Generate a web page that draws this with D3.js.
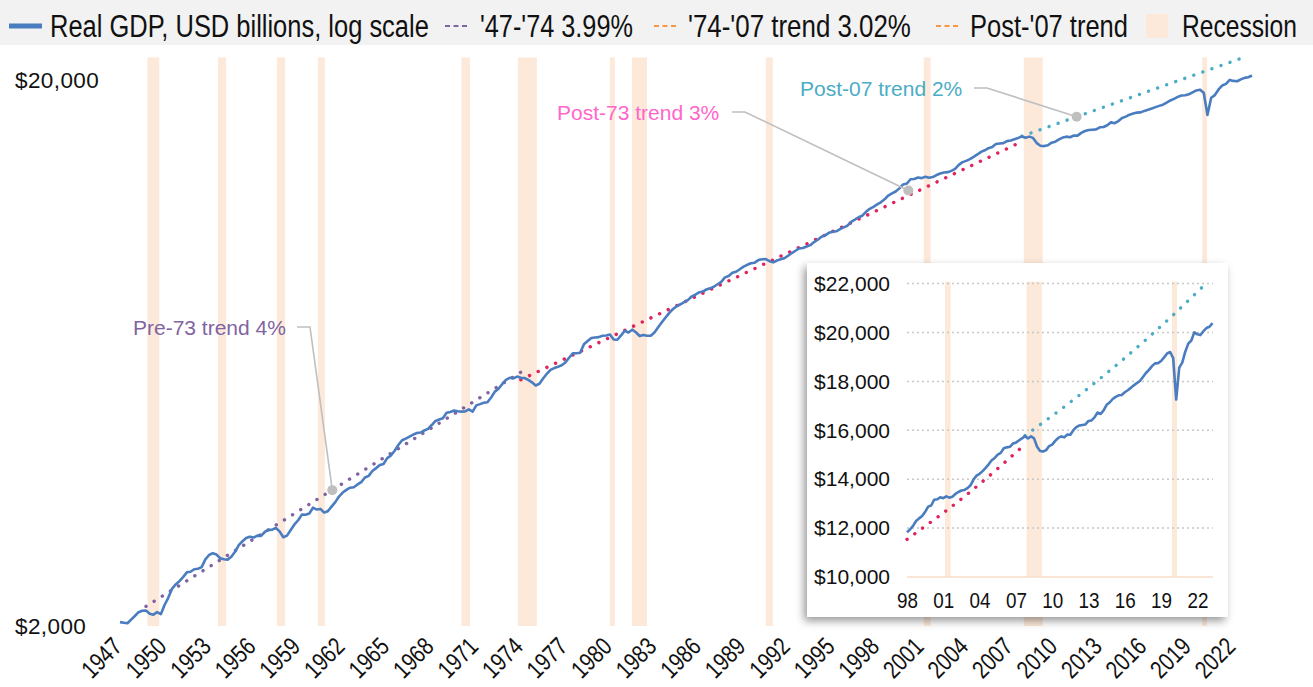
<!DOCTYPE html>
<html><head><meta charset="utf-8">
<script src="https://cdn.jsdelivr.net/npm/d3@7"></script>
<style>
html,body{margin:0;padding:0;background:#fff;}
svg{display:block;}
</style></head><body>
<svg id="chart" width="1313" height="687"></svg>
<script>
// ---------------- DATA ----------------
const startYear = 1947; // first value = 1947 Q1, quarterly
const gdpValues = [
 2033,2028,2023,2055, 2086,2120,2133,2135, 2106,2098,2120,2102, 2185,2252,2339,2383,
 2416,2458,2508,2514, 2541,2546,2564,2649, 2698,2719,2703,2662, 2650,2646,2679,2735,
 2813,2859,2898,2915, 2904,2928,2925,2973, 3000,3002,3024,2981, 2908,2928,2997,3069,
 3124,3199,3198,3215, 3294,3268,3277,3227, 3246,3308,3372,3452, 3511,3551,3583,3591,
 3633,3670,3741,3767, 3846,3892,3942,3961, 4059,4106,4188,4290, 4378,4408,4445,4483,
 4514,4522,4562,4593, 4668,4749,4777,4803, 4915,4931,4962,4948, 4940,4944,4985,4939,
 5071,5098,5127,5139, 5241,5374,5440,5550, 5647,5697,5681,5726, 5698,5691,5646,5588,
 5515,5554,5680,5794, 5891,5935,5966,6007, 6078,6198,6317,6318, 6330,6560,6650,6735,
 6752,6762,6800,6810, 6838,6696,6688,6813, 6947,6895,6978,6902, 6794,6826,6800,6803,
 6893,7052,7199,7345, 7490,7614,7703,7768, 7838,7905,8024,8085, 8166,8195,8267,8307,
 8364,8451,8538,8701, 8752,8868,8910,9005, 9103,9174,9235,9257, 9358,9393,9398,9313,
 9269,9341,9389,9432, 9532,9641,9735,9829, 9850,9909,9967,10097, 10196,10328,10389,10497,
 10543,10566,10666,10743, 10818,10998,11097,11212, 11285,11473,11616,11716, 11832,11942,12091,12288,
 12398,12497,12663,12877, 12924,13161,13178,13261, 13223,13300,13245,13281, 13397,13478,13539,13559,
 13634,13751,13985,14145, 14221,14330,14465,14610, 14772,14870,15004,15075, 15267,15302,15326,15457,
 15494,15582,15667,15762, 15671,15752,15668,15328, 15156,15134,15190,15356, 15416,15565,15687,15750,
 15712,15825,15821,16004, 16129,16199,16220,16240, 16383,16404,16528,16728, 16668,16817,17043,17137,
 17280,17368,17432,17447, 17556,17640,17736,17838, 17932,18018,18181,18344, 18472,18624,18739,18749,
 18834,18983,19141,19202, 18952,17258,18561,18767, 19216,19544,19673,20006, 19924,19895,20054,20182,
 20235,20386
];
// trend lines: [year, value]
const trendPre73  = [[1948.75,2173],[1961,3509],[1974,5833]];
const trendPost73 = [[1974,5650],[1986,8076],[1998,11540],[2003,13392],[2007.75,15424]];
const trendPost07 = [[2007.75,15780],[2012,17342],[2016,18958],[2020,20718],[2022.6,21950]];
// recession periods [start, end]
const recessions = [[1948.85,1949.65],[1953.6,1954.15],[1957.57,1958.12],[1960.33,1960.8],
  [1970.0,1970.57],[1973.8,1975.08],[1980.0,1980.33],[1981.48,1982.5],[1990.5,1990.97],
  [2001.14,2001.6],[2007.88,2009.15],[2019.9,2020.22]];
const mainYTicks = [2000,20000];
const mainXTicks = [1947,1950,1953,1956,1959,1962,1965,1968,1971,1974,1977,1980,1983,1986,1989,1992,1995,1998,2001,2004,2007,2010,2013,2016,2019,2022];
const insetYTicks = [10000,12000,14000,16000,18000,20000,22000];
const insetXTicks = [1998,2001,2004,2007,2010,2013,2016,2019,2022];
const insetStart = 1998;
const legendLabels = ["Real GDP, USD billions, log scale","'47-'74 3.99%","'74-'07 trend 3.02%","Post-'07 trend","Recession"];
const annotationTexts = ["Pre-73 trend 4%","Post-73 trend 3%","Post-07 trend 2%"];
const annotationAnchors = [[1961.3,3547],[2000.1,12550],[2011.44,17126]];

// ---------------- STYLE ----------------
const C = {blue:"#4a7cc0", purple:"#8064a2", crimson:"#e0245e", teal:"#4bacc6",
  pinkText:"#ff66cc", orange:"#f79646", rec:"#fde9d9", grey:"#bfbfbf"};
const SANS = '"Liberation Sans",Arial,sans-serif';

const W=1313,H=687;
const svg=d3.select("#chart");
const defs=svg.append("defs");
const flt=defs.append("filter").attr("id","shadow").attr("x","-10%").attr("y","-10%").attr("width","125%").attr("height","125%");
flt.append("feDropShadow").attr("dx",-3).attr("dy",4).attr("stdDeviation",4).attr("flood-color","#000").attr("flood-opacity",0.4);

// squeeze a text horizontally to a target width (condensed look)
function condense(sel, target, pre){
  sel.each(function(){
    const w=this.getComputedTextLength();
    const s=Math.min(1,target/w);
    d3.select(this).attr("transform",(pre||"")+` scale(${s},1)`);
  });
}

const series = gdpValues.map((v,i)=>({t:startYear+i*0.25, v}));

// ---------------- MAIN CHART ----------------
const x=d3.scaleLinear().domain([1947,2023.25]).range([120,1252]);
const y=d3.scaleLog().domain([2000,22000]).range([626,57.4]);

svg.append("g").selectAll("rect").data(recessions).join("rect")
  .attr("x",d=>x(d[0])).attr("width",d=>Math.max(4,x(d[1])-x(d[0])))
  .attr("y",y(22000)).attr("height",y(2000)-y(22000)).attr("fill",C.rec);

function dotted(g, data, sx, sy, color){
  g.append("path").datum(data)
   .attr("d",d3.line().curve(d3.curveMonotoneX).x(d=>sx(d[0])).y(d=>sy(d[1])))
   .attr("fill","none").attr("stroke",color).attr("stroke-width",3.4)
   .attr("stroke-linecap","round").attr("stroke-dasharray","0.1,9.5");
}
const gm=svg.append("g");
dotted(gm,trendPre73,x,y,C.purple);
dotted(gm,trendPost73,x,y,C.crimson);
dotted(gm,trendPost07,x,y,C.teal);

gm.append("path").datum(series)
  .attr("d",d3.line().x(d=>x(d.t)).y(d=>y(d.v)))
  .attr("fill","none").attr("stroke",C.blue).attr("stroke-width",2.6).attr("stroke-linejoin","round");

// y axis
const gy=svg.append("g").attr("transform","translate(15,0)")
  .call(d3.axisRight(y).tickValues(mainYTicks).tickSize(0).tickPadding(0).tickFormat(d=>"$"+d3.format(",")(d)));
gy.select(".domain").remove();
gy.selectAll("text").attr("font-family",SANS).attr("font-size",22.5).attr("fill","#111").attr("letter-spacing","0.4px");

// x axis (rotated, condensed labels)
const gx=svg.append("g").attr("transform","translate(0,648)")
  .call(d3.axisBottom(x).tickValues(mainXTicks).tickSize(0).tickFormat(d3.format("d")));
gx.select(".domain").remove();
const gxt=gx.selectAll("text").attr("x",0).attr("y",0).attr("dy",0).attr("text-anchor","end")
  .attr("font-family",SANS).attr("font-size",25).attr("fill","#111");
condense(gxt,45,"translate(3,0) rotate(-45)");

// annotations
const annPos=[{tx:133,ty:327,hx:[297,310]},{tx:557,ty:112,hx:[732,745]},{tx:800,ty:88,hx:[974,987]}];
const annColors=[C.purple,C.pinkText,C.teal];
annotationTexts.forEach((t,i)=>{
  const p=annPos[i], a=annotationAnchors[i];
  const ax=x(a[0]), ay=y(a[1]);
  svg.append("path").attr("d",`M${p.hx[0]},${p.ty}H${p.hx[1]}L${ax},${ay}`)
    .attr("fill","none").attr("stroke",C.grey).attr("stroke-width",1.6);
  svg.append("circle").attr("cx",ax).attr("cy",ay).attr("r",5).attr("fill",C.grey);
  svg.append("text").attr("x",p.tx).attr("y",p.ty).attr("dy","0.36em")
    .attr("font-family",SANS).attr("font-size",21).attr("fill",annColors[i]).text(t);
});

// ---------------- INSET ----------------
svg.append("rect").attr("x",807).attr("y",263).attr("width",421).attr("height",354)
  .attr("fill","#fff").attr("filter","url(#shadow)");
const xi=d3.scaleLinear().domain([1998,2023.25]).range([907,1212.5]);
const yi=d3.scaleLinear().domain([10000,22000]).range([577,283.6]);
const gi=svg.append("g");
gi.selectAll("rect").data(recessions.filter(d=>d[0]>=insetStart)).join("rect")
  .attr("x",d=>xi(d[0])).attr("width",d=>Math.max(5,xi(d[1])-xi(d[0])))
  .attr("y",yi(22000)-2).attr("height",yi(10000)-yi(22000)+2).attr("fill",C.rec);
gi.selectAll("line.grid").data(insetYTicks.filter(v=>v>10000)).join("line").attr("class","grid")
  .attr("x1",907).attr("x2",1213).attr("y1",d=>yi(d)).attr("y2",d=>yi(d))
  .attr("stroke","#c8c8c8").attr("stroke-width",1.5).attr("stroke-dasharray","2,3");
gi.append("line").attr("x1",907).attr("x2",1213).attr("y1",yi(10000)).attr("y2",yi(10000))
  .attr("stroke","#f8dcc8").attr("stroke-width",1.5);
dotted(gi,trendPost73.filter(d=>d[0]>=1998),xi,yi,C.crimson);
dotted(gi,trendPost07,xi,yi,C.teal);
gi.append("path").datum(series.filter(d=>d.t>=insetStart))
  .attr("d",d3.line().x(d=>xi(d.t)).y(d=>yi(d.v)))
  .attr("fill","none").attr("stroke",C.blue).attr("stroke-width",2.6).attr("stroke-linejoin","round");
const giy=gi.append("g").attr("transform","translate(890,0)")
  .call(d3.axisLeft(yi).tickValues(insetYTicks).tickSize(0).tickPadding(0).tickFormat(d=>"$"+d3.format(",")(d)));
giy.select(".domain").remove();
giy.selectAll("text").attr("font-family",SANS).attr("font-size",21).attr("fill","#111");
const gix=gi.append("g").attr("transform","translate(0,592)")
  .call(d3.axisBottom(xi).tickValues(insetXTicks).tickSize(0).tickPadding(0).tickFormat(d=>String(d).slice(2)));
gix.select(".domain").remove();
const gixt=gix.selectAll("text").attr("font-family",SANS).attr("font-size",22).attr("fill","#111");
condense(gixt,21,"");

// ---------------- LEGEND ----------------
svg.append("rect").attr("x",0).attr("y",0).attr("width",W).attr("height",45).attr("fill","#f2f2f2");
const lg=svg.append("g");
const LY=26;
lg.append("line").attr("x1",9).attr("x2",42).attr("y1",LY).attr("y2",LY).attr("stroke",C.blue).attr("stroke-width",5);
const dashSw=[[445,470,C.purple],[654,679,C.orange],[936,961,C.orange]];
dashSw.forEach(d=>lg.append("line").attr("x1",d[0]).attr("x2",d[1]).attr("y1",LY).attr("y2",LY)
  .attr("stroke",d[2]).attr("stroke-width",2).attr("stroke-dasharray","5,3.5"));
lg.append("rect").attr("x",1146).attr("y",14).attr("width",22).attr("height",24).attr("fill",C.rec);
const legX=[50,480,688,970,1182];
const legW=[379,153,223,158,115];
legendLabels.forEach((t,i)=>{
  const tx=lg.append("text").attr("x",0).attr("y",0).attr("dy","0.36em")
    .attr("font-family",SANS).attr("font-size",31).attr("fill","#111").text(t);
  condense(tx,legW[i],`translate(${legX[i]},${LY})`);
});
</script>
</body></html>
